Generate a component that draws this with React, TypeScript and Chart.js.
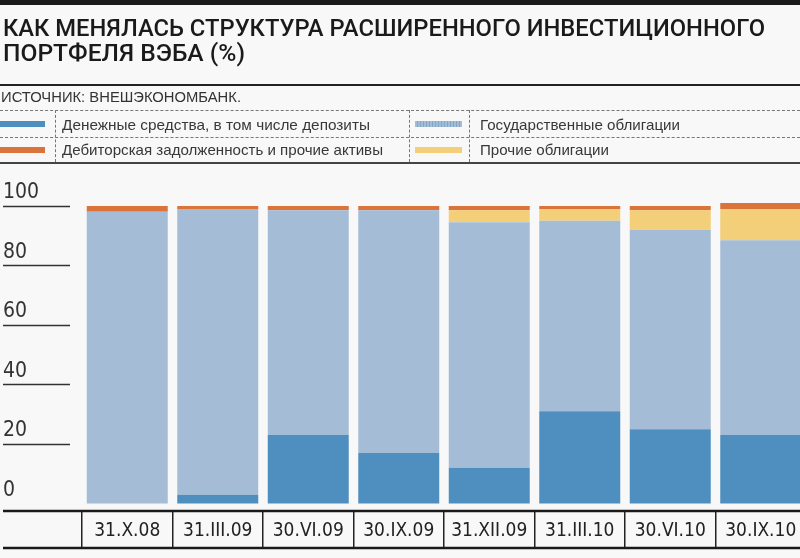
import React, { useEffect, useLayoutEffect, useRef } from "react";
import { Chart, registerables } from "chart.js";

Chart.register(...registerables);

const categories = ["31.X.08", "31.III.09", "30.VI.09", "30.IX.09", "31.XII.09", "31.III.10", "30.VI.10", "30.IX.10"];
const cash = [0, 3, 23, 17, 12, 31, 25, 23];
const govBonds = [98, 96, 75.5, 81.5, 82.5, 64, 67, 65.5];
const otherBonds = [0, 0, 0, 0, 4, 4, 6.5, 10.5];
const receivables = [2, 1, 1.5, 1.5, 1.5, 1, 1.5, 2];
const yTicks = [0, 20, 40, 60, 80, 100];
const seriesNames = [
  "Денежные средства, в том числе депозиты",
  "Государственные облигации",
  "Дебиторская задолженность и прочие активы",
  "Прочие облигации",
];
const titleLines = ["КАК МЕНЯЛАСЬ СТРУКТУРА РАСШИРЕННОГО ИНВЕСТИЦИОННОГО", "ПОРТФЕЛЯ ВЭБА (%)"];
const sourceText = "ИСТОЧНИК: ВНЕШЭКОНОМБАНК.";

const C_CASH = "#4e8fbf";
const C_GOV = "#a5bcd6";
const C_RECV = "#db743a";
const C_OTHER = "#f4cf7a";
const BG = "#f8f8f8";
const COND = "'DejaVu Sans Condensed', sans-serif";

const tablePlugin = {
  id: "tableLines",
  afterDraw(chart: any) {
    const { ctx, chartArea, scales } = chart;
    const y = scales.y;
    ctx.save();
    ctx.strokeStyle = "#333";
    ctx.lineWidth = 1.3;
    yTicks.forEach((v) => {
      if (v === 0) return;
      const py = Math.round(y.getPixelForValue(v)) + 0.5;
      ctx.beginPath();
      ctx.moveTo(3, py);
      ctx.lineTo(70, py);
      ctx.stroke();
    });
    ctx.strokeStyle = "#1a1a1a";
    ctx.lineWidth = 2.5;
    const top = chartArea.bottom;
    ctx.beginPath();
    ctx.moveTo(3, top);
    ctx.lineTo(chart.width, top);
    ctx.stroke();
    const bottom = top + 37;
    ctx.beginPath();
    ctx.moveTo(3, bottom);
    ctx.lineTo(chart.width, bottom);
    ctx.stroke();
    ctx.restore();
  },
};

function ChartCanvas() {
  const ref = useRef<HTMLCanvasElement>(null);
  useEffect(() => {
    if (!ref.current) return;
    const chart = new Chart(ref.current, {
      type: "bar",
      data: {
        labels: categories,
        datasets: [
          { label: seriesNames[0], data: cash, backgroundColor: C_CASH },
          { label: seriesNames[1], data: govBonds, backgroundColor: C_GOV },
          { label: seriesNames[3], data: otherBonds, backgroundColor: C_OTHER },
          { label: seriesNames[2], data: receivables, backgroundColor: C_RECV },
        ],
      },
      options: {
        animation: false,
        responsive: false,
        devicePixelRatio: 1,
        layout: { padding: { top: 194, left: 3, right: 4, bottom: 0 } },
        datasets: { bar: { categoryPercentage: 1, barPercentage: 0.895, borderWidth: 0 } },
        plugins: { legend: { display: false }, tooltip: { enabled: false }, title: { display: false } },
        scales: {
          x: {
            stacked: true,
            afterFit: (axis: any) => {
              axis.height = 47;
            },
            grid: {
              offset: true,
              drawOnChartArea: false,
              drawTicks: true,
              tickLength: 37,
              color: "#222",
              lineWidth: 1.5,
            },
            border: { display: false },
            ticks: {
              padding: -28,
              color: "#222",
              font: { family: COND, size: 19 },
              maxRotation: 0,
              autoSkip: false,
            },
          },
          y: {
            stacked: true,
            min: -2.5,
            max: 104,
            afterFit: (axis: any) => {
              axis.width = 79;
            },
            afterBuildTicks: (axis: any) => {
              axis.ticks = yTicks.map((v) => ({ value: v }));
            },
            grid: { display: false },
            border: { display: false },
            ticks: {
              crossAlign: "far",
              labelOffset: -13,
              color: "#333",
              font: { family: COND, size: 21 },
            },
          },
        },
      },
      plugins: [tablePlugin],
    });
    return () => chart.destroy();
  }, []);
  return <canvas ref={ref} width={810} height={558} style={{ position: "absolute", left: 0, top: 0 }} />;
}

function FitText({ width, style, children }: { width: number; style: React.CSSProperties; children: React.ReactNode }) {
  const ref = useRef<HTMLSpanElement>(null);
  useLayoutEffect(() => {
    const el = ref.current;
    if (!el) return;
    el.style.transform = "none";
    const w = el.getBoundingClientRect().width;
    if (w > 0) el.style.transform = `scaleX(${width / w})`;
  }, [width]);
  return (
    <span
      ref={ref}
      style={{
        position: "absolute",
        display: "inline-block",
        whiteSpace: "nowrap",
        transformOrigin: "left top",
        ...style,
      }}
    >
      {children}
    </span>
  );
}

const abs = (s: React.CSSProperties): React.CSSProperties => ({ position: "absolute", ...s });

export default function App() {
  const titleStyle: React.CSSProperties = {
    fontFamily: "Roboto, sans-serif",
    fontSize: 24,
    fontWeight: 500,
    lineHeight: "25px",
    color: "#1a1a1a",
  };
  const legendText: React.CSSProperties = {
    fontFamily: "'Liberation Sans', Arial, sans-serif",
    fontSize: 15,
    color: "#383838",
    lineHeight: "18px",
  };
  return (
    <div
      style={{
        position: "fixed",
        left: 0,
        top: 0,
        width: 800,
        height: 558,
        overflow: "hidden",
        background: BG,
      }}
    >
      <ChartCanvas />
      <div style={abs({ left: 0, top: 0, width: 800, height: 5, background: "#1b1b1b" })} />
      <FitText width={762} style={{ ...titleStyle, left: 3, top: 16 }}>
        {titleLines[0]}
      </FitText>
      <FitText width={242} style={{ ...titleStyle, left: 3, top: 41 }}>
        {titleLines[1]}
      </FitText>
      <div style={abs({ left: 0, top: 84, width: 800, height: 2, background: "#222" })} />
      <FitText width={240} style={{ ...legendText, left: 1, top: 88, color: "#333" }}>
        {sourceText}
      </FitText>
      <div style={abs({ left: 0, top: 110, width: 800, borderTop: "1px dashed #777" })} />
      <div style={abs({ left: 0, top: 137, width: 800, borderTop: "1px dashed #777" })} />
      <div style={abs({ left: 0, top: 162, width: 800, height: 2, background: "#444" })} />
      <div style={abs({ left: 55, top: 110, height: 52, borderLeft: "1px dashed #777" })} />
      <div style={abs({ left: 409, top: 110, height: 52, borderLeft: "1px dashed #777" })} />
      <div style={abs({ left: 469, top: 110, height: 52, borderLeft: "1px dashed #777" })} />

      <div style={abs({ left: 0, top: 121, width: 45, height: 6, background: C_CASH })} />
      <div style={abs({ left: 0, top: 147, width: 45, height: 6, background: C_RECV })} />
      <div
        style={abs({
          left: 415,
          top: 121,
          width: 47,
          height: 6,
          background: `repeating-linear-gradient(90deg, ${C_GOV} 0 2px, #7fa7c6 2px 3px)`,
        })}
      />
      <div style={abs({ left: 415, top: 147, width: 47, height: 6, background: C_OTHER })} />

      <FitText width={308} style={{ ...legendText, left: 62, top: 116 }}>
        {seriesNames[0]}
      </FitText>
      <FitText width={321} style={{ ...legendText, left: 62, top: 141 }}>
        {seriesNames[2]}
      </FitText>
      <FitText width={200} style={{ ...legendText, left: 480, top: 116 }}>
        {seriesNames[1]}
      </FitText>
      <FitText width={129} style={{ ...legendText, left: 480, top: 141 }}>
        {seriesNames[3]}
      </FitText>
    </div>
  );
}
